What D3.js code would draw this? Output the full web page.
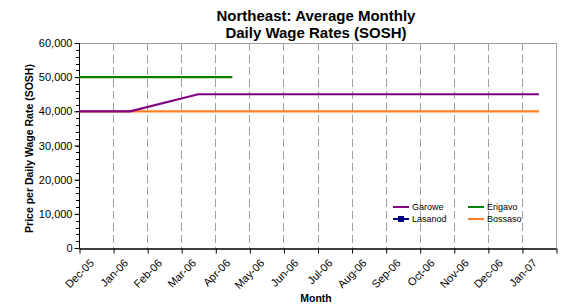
<!DOCTYPE html>
<html>
<head>
<meta charset="utf-8">
<script src="https://cdn.jsdelivr.net/npm/d3@7"></script>
<style>
  body { margin: 0; background: #fff; }
  svg { font-family: "Liberation Sans", Arial, sans-serif; }
</style>
</head>
<body>
<div id="chart"></div>
<script>
// category labels along the x axis (one per month)
var months = ["Dec-05","Jan-06","Feb-06","Mar-06","Apr-06","May-06","Jun-06",
              "Jul-06","Aug-06","Sep-06","Oct-06","Nov-06","Dec-06","Jan-07"]

// y axis tick values
var yTicks = [0, 10000, 20000, 30000, 40000, 50000, 60000]

// series: position in months from Dec-05, and wage in SOSH
var garoweMonth = [0, 1.5, 3.5, 13.5]
var garoweValue = [40000, 40000, 45000, 45000]
var lasanodMonth = []
var lasanodValue = []
var erigavoMonth = [0, 4.5]
var erigavoValue = [50000, 50000]
var bossasoMonth = [0, 13.5]
var bossasoValue = [40000, 40000]

var seriesNames = ["Garowe", "Lasanod", "Erigavo", "Bossaso"]
var seriesColors = ["#800080", "#000080", "#008000", "#ff7f27"]

var width = 564
var height = 305
// plot area edges (note: "top" is taken by window.top, so prefix them)
var plotLeft = 79, plotRight = 556, plotTop = 43, plotBottom = 248

var svg = d3.select("#chart").append("svg")
  .attr("width", width)
  .attr("height", height)

var x = d3.scaleLinear().domain([0, months.length]).range([plotLeft, plotRight])
var y = d3.scaleLinear().domain([0, 60000]).range([plotBottom, plotTop])

// plot area border (top and right, grey)
svg.append("line")
  .attr("x1", plotLeft).attr("y1", plotTop + 0.5).attr("x2", plotRight).attr("y2", plotTop + 0.5)
  .style("stroke", "#a0a0a0").style("stroke-width", 1)
svg.append("line")
  .attr("x1", plotRight + 0.5).attr("y1", plotTop).attr("x2", plotRight + 0.5).attr("y2", plotBottom)
  .style("stroke", "#a0a0a0").style("stroke-width", 1)

// dashed vertical gridlines at each month
svg.append("g").selectAll("line")
  .data(d3.range(1, months.length))
  .join("line")
  .attr("x1", d => Math.round(x(d)) + 0.5)
  .attr("x2", d => Math.round(x(d)) + 0.5)
  .attr("y1", plotTop)
  .attr("y2", plotBottom)
  .style("stroke", "#a0a0a0")
  .style("stroke-width", 1)
  .style("stroke-dasharray", "8,4")

// y axis: major ticks with labels, minor ticks every 2,000
var yAxis = d3.axisLeft(y)
  .tickValues(yTicks)
  .tickFormat(d3.format(","))
  .tickSize(5)
  .tickPadding(2)
svg.append("g")
  .attr("transform", `translate(${plotLeft + 0.5},0)`)
  .call(yAxis)
  .call(g => g.selectAll("text").style("font-size", "11px").style("fill", "#000").style("font-family", "Liberation Sans, Arial, sans-serif"))
  .call(g => g.select(".domain").attr("d", `M0,${plotTop}V${plotBottom}`).style("stroke", "#000"))

svg.append("g").selectAll("line")
  .data(d3.range(0, 60001, 2000))
  .join("line")
  .attr("x1", plotLeft - 3)
  .attr("x2", plotLeft)
  .attr("y1", d => Math.round(y(d)) + 0.5)
  .attr("y2", d => Math.round(y(d)) + 0.5)
  .style("stroke", "#000")

// x axis
var xAxis = d3.axisBottom(x)
  .tickValues(d3.range(0, months.length + 1))
  .tickFormat("")
  .tickSize(5)
  .tickSizeOuter(0)
svg.append("g")
  .attr("transform", `translate(0,${plotBottom + 0.5})`)
  .call(xAxis)
  .call(g => g.select(".domain").style("stroke", "#000").style("stroke-width", 1.5))
  .call(g => g.selectAll(".tick line").attr("transform", "translate(0.5,0)"))

// rotated month labels
svg.append("g").selectAll("text")
  .data(months)
  .join("text")
  .attr("transform", (d, i) => `translate(${x(i) + 13},${plotBottom + 13}) rotate(-45)`)
  .attr("text-anchor", "end")
  .attr("dy", "0.35em")
  .style("font-size", "11px")
  .text(d => d)

// series lines
var allMonth = [garoweMonth, lasanodMonth, erigavoMonth, bossasoMonth]
var allValue = [garoweValue, lasanodValue, erigavoValue, bossasoValue]
var line = d3.line().x(d => x(d[0])).y(d => y(d[1]))

// draw Bossaso first so Garowe's ramp sits above it like the original
var drawOrder = [3, 2, 0, 1]
drawOrder.forEach(function(s){
  var pts = allMonth[s].map((m, i) => [m, allValue[s][i]])
  if (pts.length == 0) return
  svg.append("path")
    .attr("d", line(pts))
    .style("fill", "none")
    .style("stroke", seriesColors[s])
    .style("stroke-width", 2.2)
})

// title
svg.append("text")
  .attr("x", 316).attr("y", 21)
  .attr("text-anchor", "middle")
  .style("font-size", "15px").style("font-weight", "bold")
  .text("Northeast: Average Monthly")
svg.append("text")
  .attr("x", 316).attr("y", 38)
  .attr("text-anchor", "middle")
  .style("font-size", "15px").style("font-weight", "bold")
  .text("Daily Wage Rates (SOSH)")

// axis titles
svg.append("text")
  .attr("transform", `translate(33,${(plotTop + plotBottom) / 2 + 3}) rotate(-90)`)
  .attr("text-anchor", "middle")
  .style("font-size", "10.5px").style("font-weight", "bold")
  .text("Price per Daily Wage Rate (SOSH)")
svg.append("text")
  .attr("x", 316).attr("y", 302)
  .attr("text-anchor", "middle")
  .style("font-size", "10.5px").style("font-weight", "bold")
  .text("Month")

// legend, two columns
var legendPos = [[393, 207], [393, 219], [468, 207], [468, 219]]
seriesNames.forEach(function(name, s){
  var lx = legendPos[s][0], ly = legendPos[s][1]
  var g = svg.append("g")
  g.append("line")
    .attr("x1", lx).attr("x2", lx + 16)
    .attr("y1", ly).attr("y2", ly)
    .style("stroke", seriesColors[s])
    .style("stroke-width", 2)
  if (name == "Lasanod") {
    g.append("rect")
      .attr("x", lx + 5).attr("y", ly - 3)
      .attr("width", 6).attr("height", 6)
      .style("fill", seriesColors[s])
  }
  g.append("text")
    .attr("x", lx + 19).attr("y", ly)
    .attr("dy", "0.35em")
    .style("font-size", "9px")
    .text(name)
})
</script>
</body>
</html>
